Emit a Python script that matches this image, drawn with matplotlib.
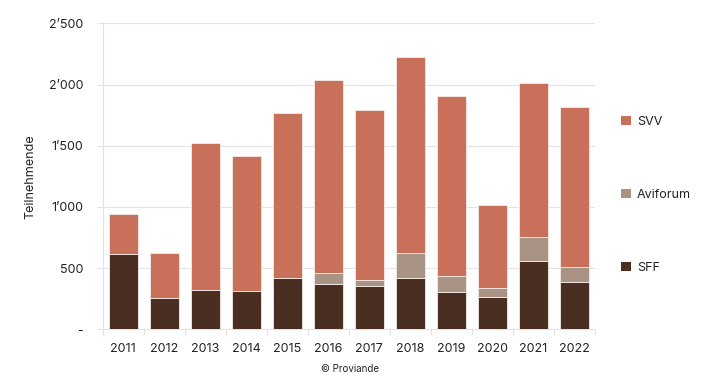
import numpy as np
import matplotlib.pyplot as plt
from matplotlib.ticker import FuncFormatter, FixedLocator
from matplotlib.patches import Patch

plt.rcParams['font.family'] = ['Inter', 'DejaVu Sans']

years = ['2011', '2012', '2013', '2014', '2015', '2016', '2017', '2018', '2019', '2020', '2021', '2022']
sff = [618, 253, 319, 315, 417, 370, 356, 422, 302, 261, 560, 389]
aviforum = [0, 0, 0, 0, 0, 90, 50, 200, 136, 74, 194, 120]
svv = [322, 373, 1201, 1098, 1353, 1577, 1384, 1604, 1470, 681, 1256, 1305]

c_sff = '#4b2e22'
c_avi = '#a89385'
c_svv = '#c9705a'
grid_c = '#e3e3e3'

fig = plt.figure(figsize=(7.1, 3.89), dpi=100)
ax = fig.add_axes([102.7 / 710, 1 - 329.3 / 389, (594.7 - 102.7) / 710, (329.3 - 23.3) / 389])

x = np.arange(len(years))
w = 0.71
sff_a = np.array(sff)
avi_a = np.array(aviforum)
svv_a = np.array(svv)
ax.bar(x, sff_a, w, color=c_sff, edgecolor='#f4ebe8', linewidth=0.6, label='SFF', zorder=3)
ax.bar(x, avi_a, w, bottom=sff_a, color=c_avi, edgecolor='#f4ebe8', linewidth=0.6, label='Aviforum', zorder=3)
ax.bar(x, svv_a, w, bottom=sff_a + avi_a, color=c_svv, edgecolor='#f4ebe8', linewidth=0.6, label='SVV', zorder=3)

ax.set_xlim(-0.5, len(years) - 0.5)
ax.set_ylim(0, 2500)
ax.set_yticks([0, 500, 1000, 1500, 2000, 2500])

def fmt(v, pos):
    if v == 0:
        return '-'
    return f'{v:,.0f}'.replace(',', '\u2019')

ax.yaxis.set_major_formatter(FuncFormatter(fmt))
ax.set_xticks(x)
ax.set_xticklabels(years)
ax.xaxis.set_minor_locator(FixedLocator(np.arange(-0.5, len(years), 1.0)))
ax.tick_params(axis='x', which='major', length=0, pad=10, labelsize=9, colors='#222222')
ax.tick_params(axis='x', which='minor', length=4, color=grid_c, width=0.8)
ax.tick_params(axis='y', length=4, pad=10, labelsize=9, colors='#222222', color=grid_c, width=0.8)

ax.grid(axis='y', color=grid_c, linewidth=0.8, zorder=0)
for s in ['top', 'right']:
    ax.spines[s].set_visible(False)
ax.spines['left'].set_color(grid_c)
ax.spines['bottom'].set_color(grid_c)
ax.spines['left'].set_linewidth(0.8)
ax.spines['bottom'].set_linewidth(0.8)

ax.set_ylabel('Teilnehmende', fontsize=9, color='#222222')
ax.yaxis.set_label_coords((36 - 102.7) / 492, 0.5)

handles = [Patch(facecolor=c_svv, label='SVV'),
           Patch(facecolor=c_avi, label='Aviforum'),
           Patch(facecolor=c_sff, label='SFF')]
fig.legend(handles=handles, loc='center left', bbox_to_anchor=(610 / 710, 1 - 195 / 389),
           frameon=False, fontsize=9, labelspacing=4.9, handlelength=0.75, handleheight=0.75,
           handletextpad=0.5, labelcolor='#222222')

fig.text(350 / 710, 1 - 369 / 389, '\u00a9 Proviande', ha='center', va='center', fontsize=7, color='#222222')

fig.savefig('out.png', dpi=100)
